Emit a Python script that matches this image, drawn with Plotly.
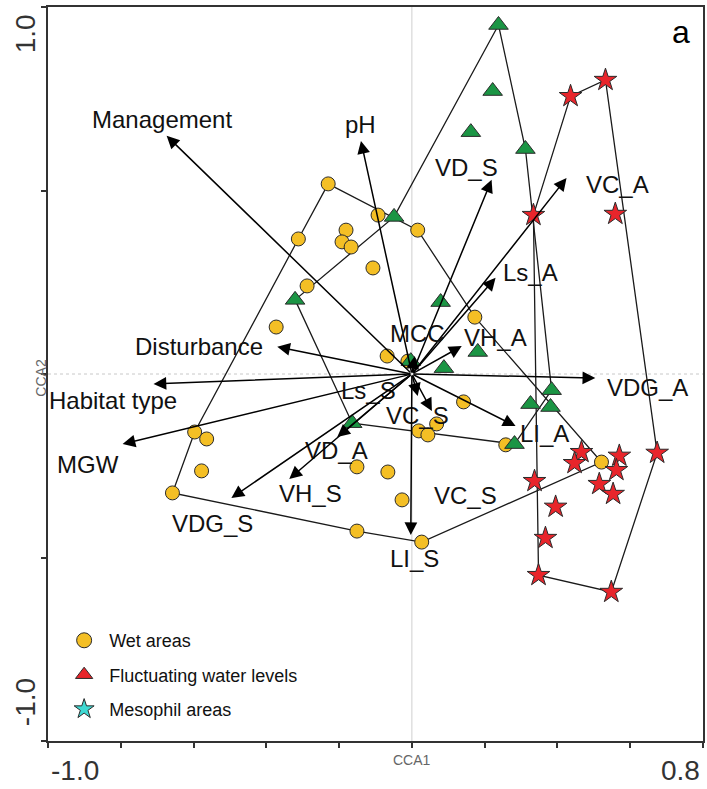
import plotly.graph_objects as go

# --- Sample scores (CCA1, CCA2) by habitat group ---
wet_x = [-0.230, 0.016, 0.173, 0.521, 0.027, -0.151, -0.658, -0.597, -0.312,
         -0.181, -0.192, -0.167, -0.093, -0.107, -0.288, -0.373, -0.068, -0.011,
         0.142, 0.068, 0.019, 0.044, 0.258, -0.564, -0.578, -0.151, -0.066, -0.027]
wet_y = [0.518, 0.392, 0.155, -0.240, -0.458, -0.428, -0.324, -0.158, 0.368,
         0.392, 0.360, 0.346, 0.433, 0.289, 0.240, 0.128, 0.049, 0.035,
         -0.076, -0.136, -0.155, -0.166, -0.193, -0.177, -0.264, -0.253, -0.267, -0.343]
wet_hull = [0, 1, 2, 3, 4, 5, 6, 7, 8, 0]

fluct_x = [0.238, 0.222, 0.162, 0.312, -0.049, -0.321, 0.079, 0.181, 0.088,
           -0.003, 0.384, 0.326, 0.381, 0.282, -0.164]
fluct_y = [0.951, 0.771, 0.659, 0.613, 0.428, 0.202, 0.196, 0.060, 0.016,
           0.035, -0.044, -0.082, -0.090, -0.191, -0.134]
fluct_hull = [0, 3, 10, 13, 14, 5, 4, 0]

meso_x = [0.436, 0.532, 0.334, 0.559, 0.674, 0.466, 0.447, 0.570, 0.562,
          0.515, 0.553, 0.337, 0.395, 0.367, 0.348, 0.548]
meso_y = [0.757, 0.801, 0.433, 0.436, -0.215, -0.213, -0.243, -0.223, -0.262,
          -0.300, -0.327, -0.292, -0.362, -0.447, -0.548, -0.594]
meso_hull = [2, 0, 1, 4, 15, 14, 2]

# --- Environmental variable vectors ---
env_names = ["Management", "pH", "VD_S", "VC_A", "Ls_A", "VH_A", "MCC",
             "Disturbance", "Habitat type", "MGW", "Ls_S", "VC_S", "VD_A",
             "VH_S", "VDG_S", "LI_S", "LI_A", "VDG_A"]
env_x = [-0.674, -0.140, 0.219, 0.425, 0.230, 0.137, 0.008,
         -0.370, -0.710, -0.795, 0.016, 0.055, -0.205,
         -0.337, -0.496, -0.003, 0.285, 0.504]
env_y = [0.649, 0.635, 0.529, 0.534, 0.262, 0.076, 0.049,
         0.074, -0.027, -0.191, -0.060, -0.101, -0.172,
         -0.286, -0.338, -0.439, -0.142, -0.011]
# label offsets from arrow tips, in pixels (right, up)
label_dx = [-5, 0, -25, 51, 35, 34, 3, -78, -41, -35, -49, -14, -1, 21, -19, 4, 29, 52]
label_dy = [16, 16, 12, -6, 5, 9, 23, 0, -17, -20, 6, -4, -13, -15, -25, -23, -7, -9]

extra_label = "VC_S"
extra_x, extra_y = 0.148, -0.330

FONT = "Liberation Sans, Arial, sans-serif"
YELLOW = "#F4BF25"
GREEN = "#1B9544"
RED = "#E8252B"
CYAN = "#3FD9D3"
EDGE = "#2b2b2b"

fig = go.Figure()

def hull_trace(xs, ys, idx):
    return go.Scatter(x=[xs[i] for i in idx], y=[ys[i] for i in idx], mode="lines",
                      line=dict(color="#1a1a1a", width=1.3), showlegend=False,
                      hoverinfo="skip")

fig.add_trace(hull_trace(wet_x, wet_y, wet_hull))
fig.add_trace(hull_trace(fluct_x, fluct_y, fluct_hull))
fig.add_trace(hull_trace(meso_x, meso_y, meso_hull))

fig.add_trace(go.Scatter(x=wet_x, y=wet_y, mode="markers", showlegend=False,
                         marker=dict(symbol="circle", size=14, color=YELLOW,
                                     line=dict(color=EDGE, width=1))))
fig.add_trace(go.Scatter(x=fluct_x, y=fluct_y, mode="markers", showlegend=False,
                         marker=dict(symbol="triangle-up", size=17, color=GREEN,
                                     line=dict(color=EDGE, width=1))))
fig.add_trace(go.Scatter(x=meso_x, y=meso_y, mode="markers", showlegend=False,
                         marker=dict(symbol="star", size=17, color=RED,
                                     line=dict(color=EDGE, width=1))))

# legend entries
for name, sym, col, grp in [("Wet areas", "circle", YELLOW, "g1"),
                            ("Fluctuating water levels", "triangle-up", RED, "g2"),
                            ("Mesophil areas", "star", CYAN, "g3")]:
    fig.add_trace(go.Scatter(x=[None], y=[None], mode="markers", name=name,
                             legendgroup=grp,
                             marker=dict(symbol=sym, size=15, color=col,
                                         line=dict(color=EDGE, width=1))))

annotations = []
for name, x, y, dx, dy in zip(env_names, env_x, env_y, label_dx, label_dy):
    annotations.append(dict(x=x, y=y, ax=0, ay=0, xref="x", yref="y", axref="x", ayref="y",
                            text="", showarrow=True, arrowhead=2, arrowsize=1.7,
                            arrowwidth=1.5, arrowcolor="black"))
    annotations.append(dict(x=x, y=y, xref="x", yref="y", text=name, showarrow=False,
                            xshift=dx, yshift=dy, font=dict(family=FONT, size=24, color="#111")))
annotations.append(dict(x=extra_x, y=extra_y, xref="x", yref="y", text=extra_label,
                        showarrow=False, font=dict(family=FONT, size=24, color="#111")))

tick_font = dict(family=FONT, size=28, color="#333")
annotations += [
    dict(x=0.041, y=-0.040, xref="paper", yref="paper", text="-1.0", showarrow=False,
         font=tick_font, xanchor="center", yanchor="middle"),
    dict(x=0.965, y=-0.040, xref="paper", yref="paper", text="0.8", showarrow=False,
         font=tick_font, xanchor="center", yanchor="middle"),
    dict(x=-0.035, y=0.963, xref="paper", yref="paper", text="1.0", showarrow=False,
         font=tick_font, textangle=-90, xanchor="center", yanchor="middle"),
    dict(x=-0.035, y=0.053, xref="paper", yref="paper", text="-1.0", showarrow=False,
         font=tick_font, textangle=-90, xanchor="center", yanchor="middle"),
    dict(x=0.556, y=-0.040, xref="paper", yref="paper", text="CCA1", showarrow=False,
         font=dict(family=FONT, size=14, color="#666")),
    dict(x=-0.026, y=0.495, xref="paper", yref="paper", text="CCA2", showarrow=False,
         textangle=-90, font=dict(family=FONT, size=14, color="#666")),
    dict(x=0.983, y=0.993, xref="paper", yref="paper", text="a", showarrow=False,
         font=dict(family=FONT, size=32, color="black")),
]

shapes = [
    dict(type="line", xref="x", yref="y", x0=0, x1=0, y0=-1, y1=1, layer="below",
         line=dict(color="#cfcfcf", width=1)),
    dict(type="line", xref="x", yref="y", x0=-1, x1=0.8, y0=0, y1=0, layer="below",
         line=dict(color="#c8c8c8", width=1, dash="dot")),
]

fig.update_layout(
    width=707, height=789,
    margin=dict(l=48, r=2, t=7, b=48),
    paper_bgcolor="white", plot_bgcolor="white",
    annotations=annotations, shapes=shapes,
    showlegend=True,
    legend=dict(x=0.017, y=0.162, xanchor="left", yanchor="top",
                font=dict(family=FONT, size=18, color="#111"),
                itemwidth=40, tracegroupgap=8, bgcolor="rgba(0,0,0,0)"),
    xaxis=dict(range=[-1.0, 0.8], showgrid=False, zeroline=False, showticklabels=False,
               tickvals=[-1.0, -0.8, -0.6, -0.4, -0.2, 0, 0.2, 0.4, 0.6, 0.8],
               ticks="outside", ticklen=5, tickwidth=1.5, tickcolor="#333",
               showline=True, linecolor="#333", linewidth=2, mirror=True),
    yaxis=dict(range=[-1.0, 1.0], showgrid=False, zeroline=False, showticklabels=False,
               tickvals=[-1.0, -0.5, 0, 0.5, 1.0],
               ticks="outside", ticklen=5, tickwidth=1.5, tickcolor="#333",
               showline=True, linecolor="#333", linewidth=2, mirror=True),
)

fig.write_html("out.html")
